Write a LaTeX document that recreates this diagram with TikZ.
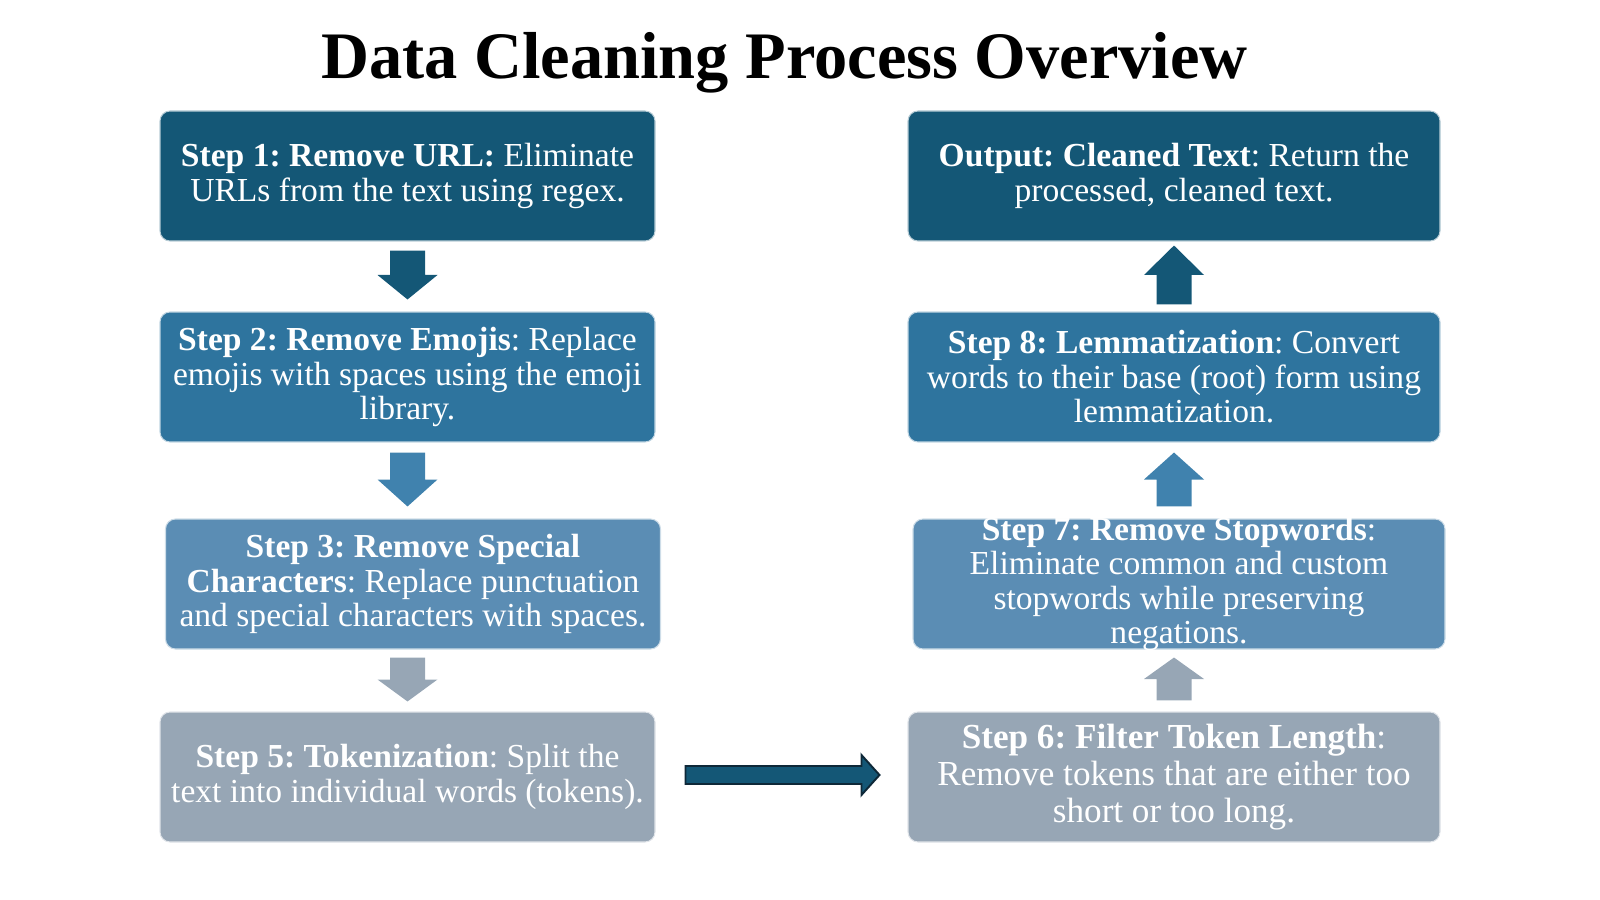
\documentclass[tikz,border=0pt]{standalone}
\usepackage{fontspec}
\setmainfont{Liberation Serif}
\usetikzlibrary{calc}
\definecolor{stepDark}{RGB}{20,87,118}
\definecolor{stepMid}{RGB}{46,116,158}
\definecolor{stepLight}{RGB}{91,141,180}
\definecolor{stepGray}{RGB}{151,166,181}
\definecolor{arrowMid}{RGB}{64,130,174}
\definecolor{arrowEdge}{RGB}{14,40,56}

\begin{document}
\frenchspacing
\begin{tikzpicture}[x=0.1mm,y=-0.1mm,
    stepbox/.style={rectangle, rounded corners=1mm, minimum height=13mm,
        draw=white!70!#1, line width=0.3pt, fill=#1, inner sep=0pt},
    steptext/.style={align=center, text=white, inner sep=0pt,
        font=\fontsize{9.55}{9.8}\selectfont},
    varrow/.style={to path={
        ($(\tikztostart)+(-17.5,0)$) -- ($(\tikztostart)+(17.5,0)$)
        -- ($(\tikztostart)!0.5!(\tikztotarget)+(17.5,0)$)
        -- ($(\tikztostart)!0.5!(\tikztotarget)+(30,0)$)
        -- (\tikztotarget)
        -- ($(\tikztostart)!0.5!(\tikztotarget)+(-30,0)$)
        -- ($(\tikztostart)!0.5!(\tikztotarget)+(-17.5,0)$) -- cycle}},
    harrow/.style={to path={
        ($(\tikztostart)+(0,-9)$) -- ($(\tikztotarget)+(-18,-9)$)
        -- ($(\tikztotarget)+(-18,-20)$) -- (\tikztotarget)
        -- ($(\tikztotarget)+(-18,20)$) -- ($(\tikztotarget)+(-18,9)$)
        -- ($(\tikztostart)+(0,9)$) -- cycle}}]

    \useasboundingbox (0,0) rectangle (1600,900);

    \node[anchor=base, font=\fontsize{18.9}{21}\selectfont\bfseries] (title)
        at (784.5,79) {Data Cleaning Process Overview};

    % left column
    \node[stepbox=stepDark,  minimum width=49.5mm] (s1) at (407.5,176) {};
    \node[stepbox=stepMid,   minimum width=49.5mm] (s2) at (407.5,377) {};
    \node[stepbox=stepLight, minimum width=49.5mm] (s3) at (413,584) {};
    \node[stepbox=stepGray,  minimum width=49.5mm] (s5) at (407.5,777) {};

    % right column
    \node[stepbox=stepDark,  minimum width=53.2mm] (out) at (1174,176) {};
    \node[stepbox=stepMid,   minimum width=53.2mm] (s8) at (1174,377) {};
    \node[stepbox=stepLight, minimum width=53.2mm] (s7) at (1179,584) {};
    \node[stepbox=stepGray,  minimum width=53.2mm] (s6) at (1174,777) {};

    \node[steptext] (t1) at (s1) {\textbf{Step 1: Remove URL:} Eliminate\\
        URLs from the text using regex.};
    \node[steptext] (t2) at (s2) {\textbf{Step 2: Remove Emojis}: Replace\\
        emojis with spaces using the emoji\\ library.};
    \node[steptext] (t3) at (s3) {\textbf{Step 3: Remove Special}\\
        \textbf{Characters}: Replace punctuation\\
        and special characters with spaces.};
    \node[steptext] (t5) at (s5) {\textbf{Step 5: Tokenization}: Split the\\
        text into individual words (tokens).};
    \node[steptext, font=\fontsize{10}{10.5}\selectfont] (t6) at (s6)
        {\textbf{Step 6: Filter Token Length}:\\
        Remove tokens that are either too\\ short or too long.};
    \node[steptext] (t7) at (s7) {\textbf{Step 7: Remove Stopwords}:\\
        Eliminate common and custom\\ stopwords while preserving\\ negations.};
    \node[steptext] (t8) at (s8) {\textbf{Step 8: Lemmatization}: Convert\\
        words to their base (root) form using\\ lemmatization.};
    \node[steptext] (tout) at (out) {\textbf{Output: Cleaned Text}: Return the\\
        processed, cleaned text.};

    % block arrows
    \fill[stepDark, varrow]  ($(s1.south)+(0,9)$)     to ($(s2.north)+(0,-12)$);
    \fill[arrowMid, varrow]  ($(s2.south)+(0,10)$)    to ($(s3.north)+(-5.5,-12)$);
    \fill[stepGray, varrow]  ($(s3.south)+(-5.5,8)$)  to ($(s5.north)+(0,-10)$);
    \fill[stepGray, varrow]  ($(s6.north)+(0,-11)$)   to ($(s7.south)+(-5,8)$);
    \fill[arrowMid, varrow]  ($(s7.north)+(-5,-12)$)  to ($(s8.south)+(0,10)$);
    \fill[stepDark, varrow]  ($(s8.north)+(0,-7)$)    to ($(out.south)+(0,4)$);

    \coordinate (h1) at ($(s5.east)+(30,-2)$);
    \coordinate (h2) at ($(s6.west)+(-28,-2)$);
    \filldraw[fill=stepDark, draw=arrowEdge, line width=0.55pt, harrow] (h1) to (h2);

\end{tikzpicture}
\end{document}
